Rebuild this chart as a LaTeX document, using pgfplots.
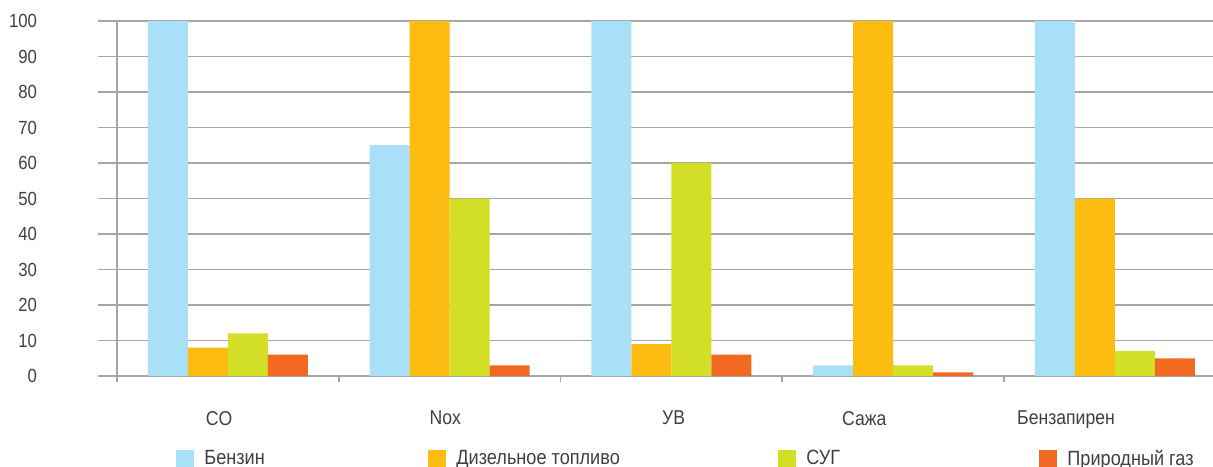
\documentclass[border=0pt]{standalone}
\usepackage{fontspec}
\setmainfont{Liberation Sans}[FakeStretch=0.88]
\usepackage{pgfplots}
\pgfplotsset{compat=1.18}
\definecolor{cBenz}{HTML}{A9E0F8}
\definecolor{cDiz}{HTML}{FDBC12}
\definecolor{cSug}{HTML}{D3DE26}
\definecolor{cGas}{HTML}{F26A22}
\definecolor{gridgray}{HTML}{A6A6A6}
\definecolor{txt}{HTML}{404040}
\pgfplotsset{sq/.style={legend image code/.code={\fill[##1] (0pt,-4.5pt) rectangle (9pt,4.5pt); \path (14pt,0pt);}}}
\begin{document}
\begin{tikzpicture}
\useasboundingbox (0,0) rectangle (606.5pt,233pt);
\begin{axis}[
  at={(49pt,45pt)}, anchor=south west,
  scale only axis, width=557.5pt, height=177.5pt,
  xmin=-0.586, xmax=4.443, ymin=0, ymax=100,
  ybar=0pt, bar width=20pt,
  axis line style={draw=none},
  tick pos=left,
  ytick={0,10,...,100},
  ymajorgrids, major grid style={gridgray, line width=0.75pt},
  major tick length=0pt,
  xtick={-0.04,0.98,2.01,2.87,3.78},
  xticklabels={CO,Nox,УВ,Сажа,Бензапирен},
  minor xtick={0.5,1.5,2.5,3.5},
  minor tick length=3pt, tick align=outside,
  minor tick style={gridgray, line width=0.75pt},
  font=\fontsize{9.5}{11}\selectfont\color{txt},
  /pgf/number format/assume math mode=true,
  yticklabel style={anchor=east, xshift=-27pt},
  xticklabel style={yshift=-14pt, font=\fontsize{10}{12}\selectfont\color{txt}},
  clip=false,
  legend columns=4,
  legend style={at={(0.070,-0.234)}, anchor=west, draw=none, inner sep=0pt,
    font=\fontsize{10.3}{12}\selectfont\color{txt},
    nodes={inner sep=0pt}, /tikz/column sep=0pt},
]
\draw[gridgray, line width=0.75pt] (axis cs:-0.5,100) -- ([yshift=-3pt]axis cs:-0.5,0);
\addplot[fill=cBenz, draw=none, sq] coordinates {(0,100) (1,65) (2,100) (3,3) (4,100)};
\addlegendentry{\makebox[112pt][l]{Бензин}}
\addplot[fill=cDiz, draw=none, sq] coordinates {(0,8) (1,100) (2,9) (3,100) (4,50)};
\addlegendentry{\makebox[161pt][l]{Дизельное топливо}}
\addplot[fill=cSug, draw=none, sq] coordinates {(0,12) (1,50) (2,60) (3,3) (4,7)};
\addlegendentry{\makebox[116.5pt][l]{СУГ}}
\addplot[fill=cGas, draw=none, sq] coordinates {(0,6) (1,3) (2,6) (3,1) (4,5)};
\addlegendentry{Природный газ}
\end{axis}
\end{tikzpicture}
\end{document}
